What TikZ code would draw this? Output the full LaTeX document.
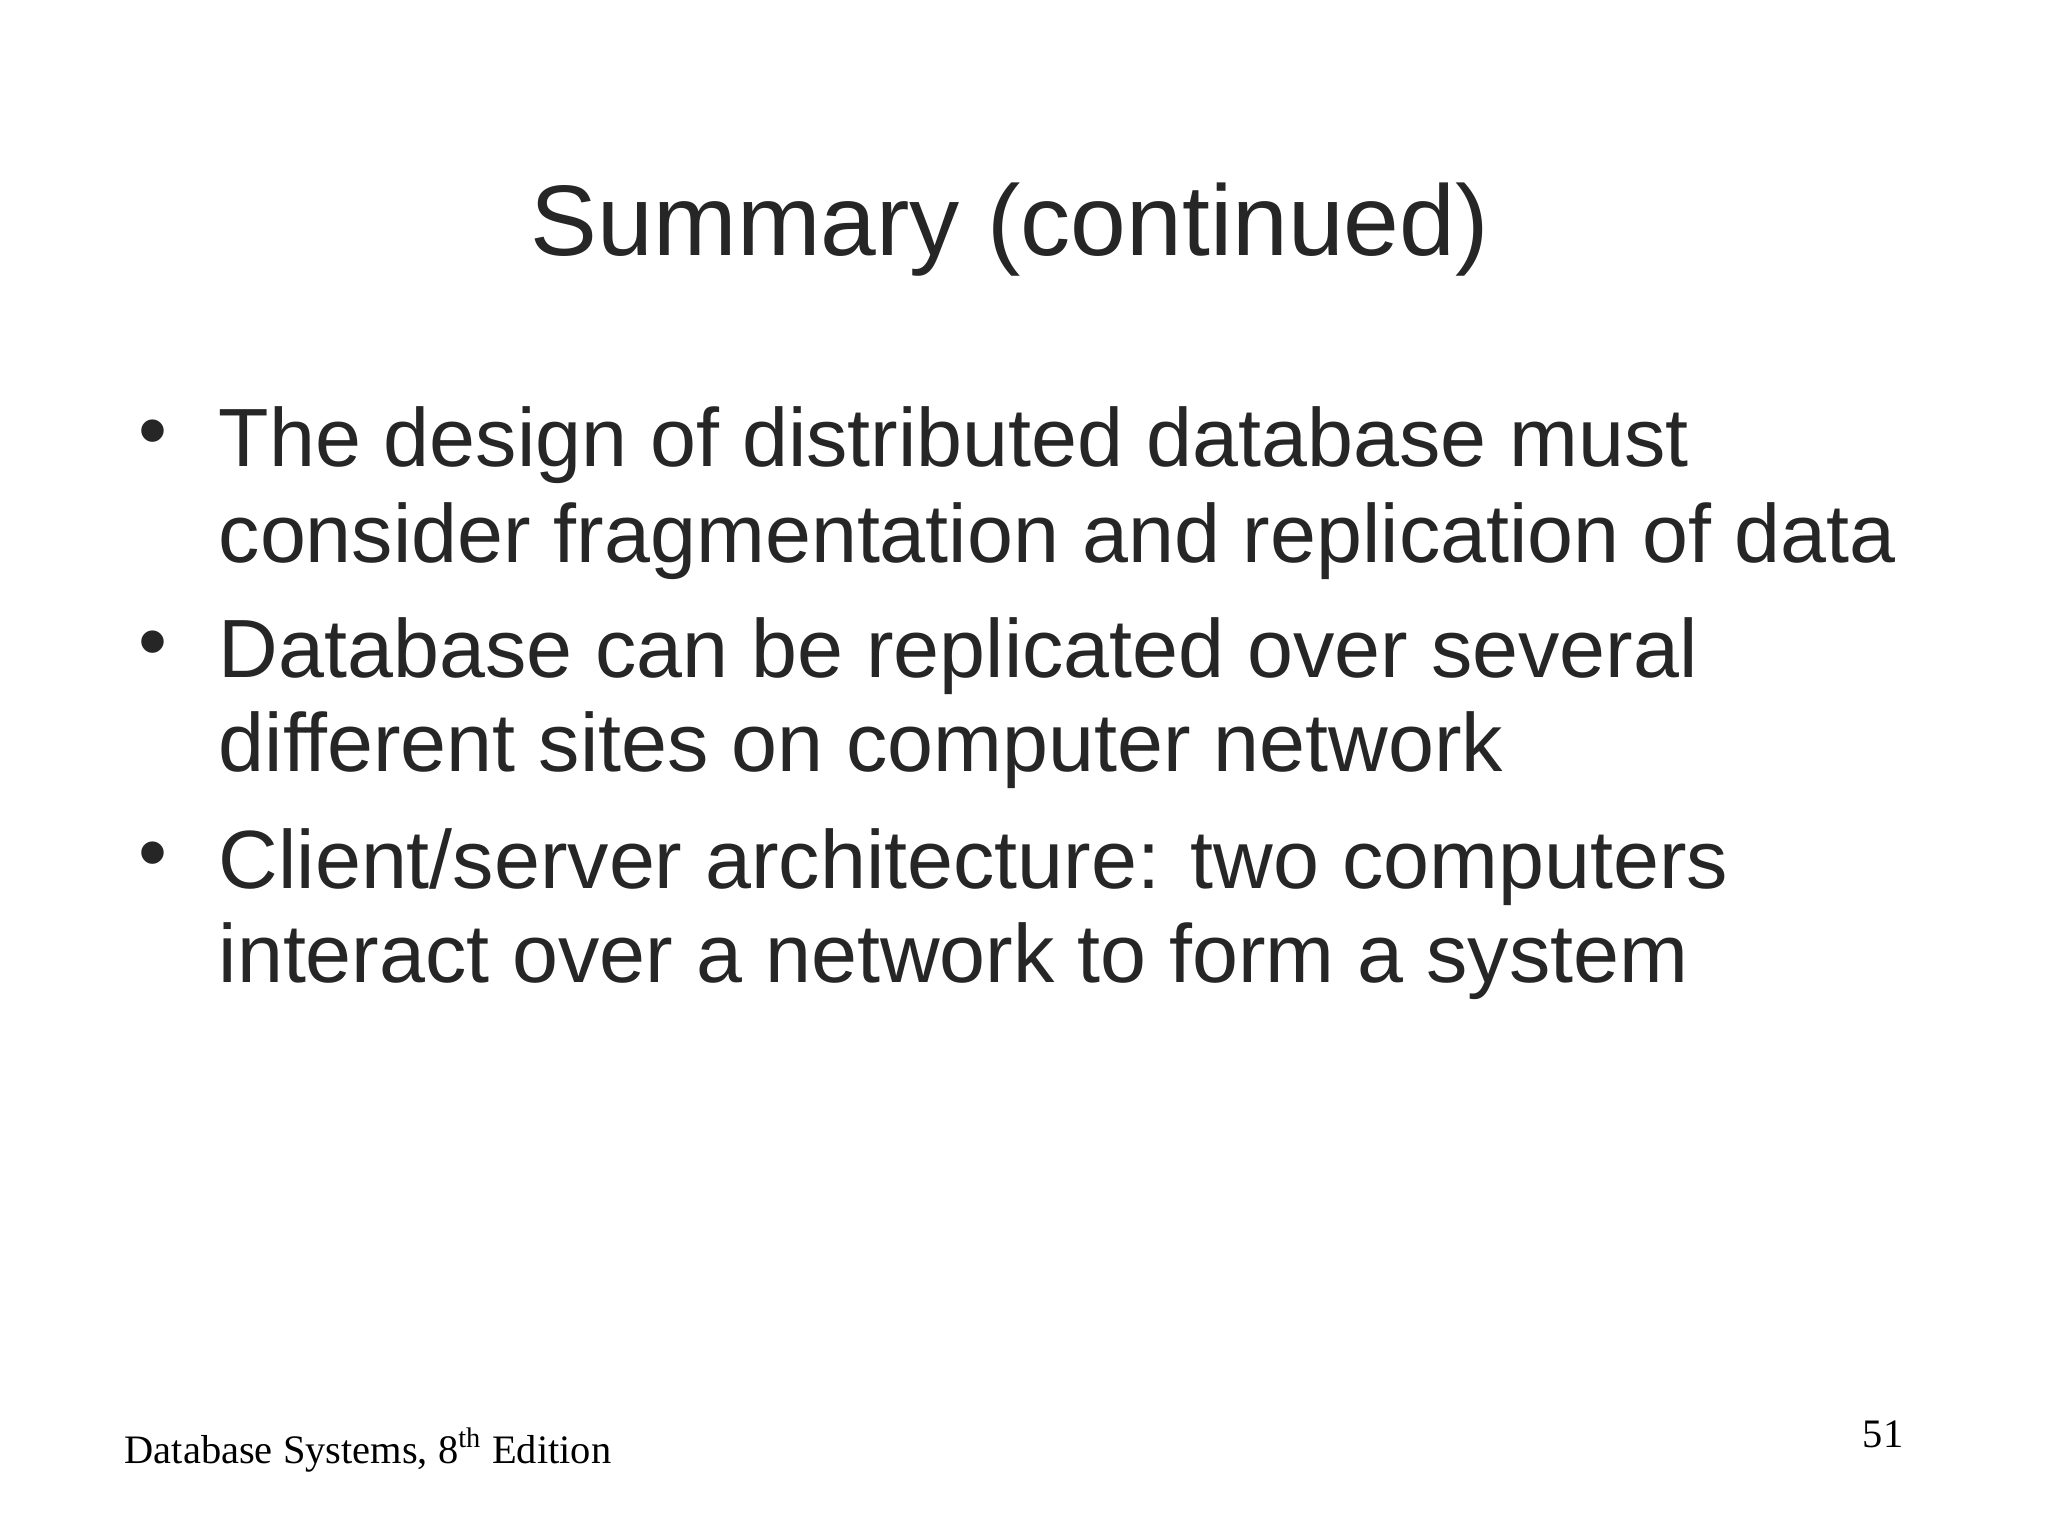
\documentclass[tikz,border=0pt]{standalone}
\usepackage{fontspec}
\setmainfont{Liberation Sans}
\newfontfamily\seriff{Liberation Serif}
\definecolor{txt}{HTML}{262626}
\begin{document}
\begin{tikzpicture}[x=0.01cm,y=-0.01cm,
  body/.style={anchor=base west,inner sep=0,text=txt,font=\fontsize{23.5}{27}\selectfont},
  bul/.style={anchor=base,inner sep=0,text=txt,font=\fontsize{23.5}{27}\selectfont},
  foot/.style={inner sep=0,text=black,font=\seriff\fontsize{11.5}{13}\selectfont}]
\fill[white] (0,0) rectangle (2048,1536);
\useasboundingbox (0,0) rectangle (2048,1536);
\node[anchor=base,inner sep=0,text=txt,font=\fontsize{28.5}{33}\selectfont] (title) at (1010,255) {Summary (continued)};
\node[bul] (b1) at (153,458) {•};
\node[body] (l1) at (218,466) {The design of distributed database must};
\node[body] (l2) at (218,562) {consider fragmentation and replication of data};
\node[bul] (b2) at (153,669) {•};
\node[body] (l3) at (218,677) {Database can be replicated over several};
\node[body] (l4) at (218,771) {different sites on computer network};
\node[bul] (b3) at (153,880) {•};
\node[body] (l5) at (218,888) {Client/server architecture: two computers};
\node[body] (l6) at (218,982) {interact over a network to form a system};
\node[foot,anchor=base west] (f1) at (124,1463) {Database Systems, 8\textsuperscript{th} Edition};
\node[foot,anchor=base east] (f2) at (1904,1447) {51};
\end{tikzpicture}
\end{document}
